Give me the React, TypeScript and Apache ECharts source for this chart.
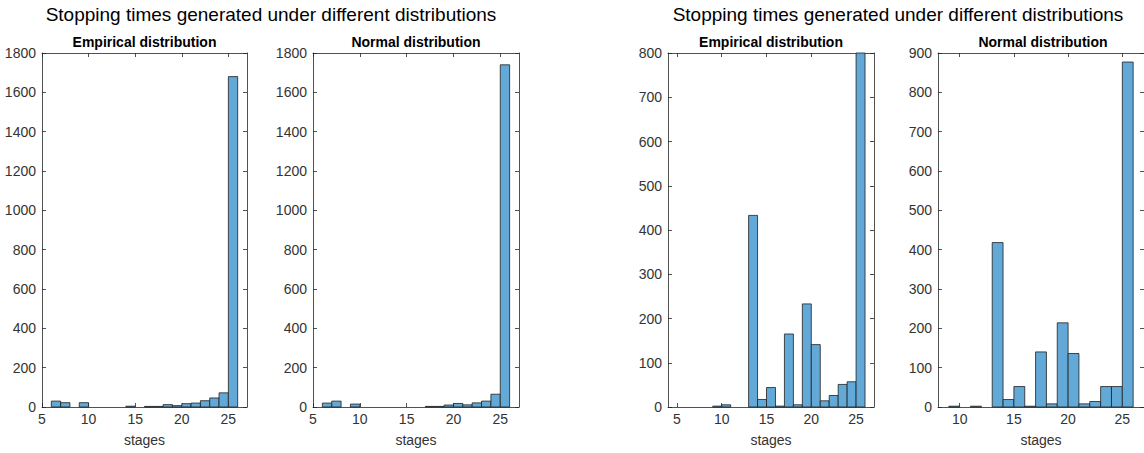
import React, { useEffect, useRef } from "react";
import * as echarts from "echarts";

// ---- data (bin start stage, count); bins are 1 stage wide ----
const empA_bins = [6, 7, 9, 14, 16, 17, 18, 19, 20, 21, 22, 23, 24, 25];
const empA_counts = [30, 22, 22, 4, 3, 3, 12, 7, 17, 20, 32, 46, 72, 1680];

const norA_bins = [6, 7, 9, 17, 18, 19, 20, 21, 22, 23, 24, 25];
const norA_counts = [20, 30, 15, 3, 3, 10, 18, 11, 21, 30, 65, 1740];

const empB_bins = [9, 10, 13, 14, 15, 16, 17, 18, 19, 20, 21, 22, 23, 24, 25];
const empB_counts = [2, 5, 433, 17, 44, 2, 165, 5, 233, 141, 14, 26, 51, 57, 870];

const norB_bins = [9, 11, 13, 14, 15, 16, 17, 18, 19, 20, 21, 22, 23, 24, 25];
const norB_counts = [2, 2, 418, 19, 52, 2, 140, 8, 214, 136, 8, 14, 52, 52, 877];

const suptitle = "Stopping times generated under different distributions";
const subtitles = ["Empirical distribution", "Normal distribution", "Empirical distribution", "Normal distribution"];
const xName = "stages";

const xTicksA = [5, 10, 15, 20, 25];
const xTicksB1 = [5, 10, 15, 20, 25];
const xTicksB2 = [10, 15, 20, 25];

const FONT = "'Liberation Sans', Arial, Helvetica, sans-serif";
const AX = "#262626";
const LABEL = "#333333";
const FILL = "#63a9d8";

type Panel = {
  bins: number[];
  counts: number[];
  xmin: number;
  xmax: number;
  xticks: number[];
  ymax: number;
  yint: number;
  left: number;
  width: number;
  title: string;
};

const panels: Panel[] = [
  { bins: empA_bins, counts: empA_counts, xmin: 5, xmax: 27, xticks: xTicksA, ymax: 1800, yint: 200, left: 42, width: 205, title: subtitles[0] },
  { bins: norA_bins, counts: norA_counts, xmin: 5, xmax: 27, xticks: xTicksA, ymax: 1800, yint: 200, left: 313, width: 206, title: subtitles[1] },
  { bins: empB_bins, counts: empB_counts, xmin: 4, xmax: 27, xticks: xTicksB1, ymax: 800, yint: 100, left: 668, width: 206, title: subtitles[2] },
  { bins: norB_bins, counts: norB_counts, xmin: 8, xmax: 27, xticks: xTicksB2, ymax: 900, yint: 100, left: 938, width: 210, title: subtitles[3] },
];

const TOP = 53;
const HEIGHT = 354;

export default function App() {
  const ref = useRef<HTMLDivElement>(null);
  useEffect(() => {
    if (!ref.current) return;
    const chart = echarts.init(ref.current, undefined, { renderer: "svg" });
    const grid: any[] = [];
    const xAxis: any[] = [];
    const yAxis: any[] = [];
    const series: any[] = [];
    const title: any[] = [
      { text: suptitle, left: 271, top: 5, textAlign: "center", padding: 0, textStyle: { fontFamily: FONT, fontSize: 19, fontWeight: "normal", color: "#000" } },
      { text: suptitle, left: 898, top: 5, textAlign: "center", padding: 0, textStyle: { fontFamily: FONT, fontSize: 19, fontWeight: "normal", color: "#000" } },
    ];
    panels.forEach((p, i) => {
      grid.push({ left: p.left, top: TOP, width: p.width, height: HEIGHT, containLabel: false });
      title.push({
        text: p.title,
        left: p.left + p.width / 2,
        top: 35,
        textAlign: "center",
        padding: 0,
        textStyle: { fontFamily: FONT, fontSize: 14, fontWeight: "bold", color: "#000" },
      });
      const lineStyle = { color: AX, width: 0.8 };
      xAxis.push({
        type: "value",
        gridIndex: i,
        position: "bottom",
        min: p.xmin,
        max: p.xmax,
        axisLine: { show: true, onZero: false, lineStyle },
        axisTick: { show: true, inside: true, length: 4, lineStyle, customValues: p.xticks },
        axisLabel: { show: true, customValues: p.xticks, color: LABEL, fontFamily: FONT, fontSize: 14, margin: 5, formatter: (v: number) => String(v) },
        splitLine: { show: false },
        name: xName,
        nameLocation: "middle",
        nameGap: 26,
        nameTextStyle: { color: LABEL, fontFamily: FONT, fontSize: 14 },
      });
      xAxis.push({
        type: "value",
        gridIndex: i,
        position: "top",
        min: p.xmin,
        max: p.xmax,
        axisLine: { show: true, onZero: false, lineStyle },
        axisTick: { show: true, inside: true, length: 4, lineStyle, customValues: p.xticks },
        axisLabel: { show: false },
        splitLine: { show: false },
      });
      yAxis.push({
        type: "value",
        gridIndex: i,
        position: "left",
        min: 0,
        max: p.ymax,
        interval: p.yint,
        axisLine: { show: true, onZero: false, lineStyle },
        axisTick: { show: true, inside: true, length: 4, lineStyle },
        axisLabel: { show: true, color: LABEL, fontFamily: FONT, fontSize: 14, margin: 6, formatter: (v: number) => String(v) },
        splitLine: { show: false },
      });
      yAxis.push({
        type: "value",
        gridIndex: i,
        position: "right",
        min: 0,
        max: p.ymax,
        interval: p.yint,
        axisLine: { show: true, onZero: false, lineStyle },
        axisTick: { show: true, inside: true, length: 4, lineStyle },
        axisLabel: { show: false },
        splitLine: { show: false },
      });
      const data = p.bins.map((b, k) => [b, b + 1, p.counts[k]]);
      series.push({
        type: "custom",
        xAxisIndex: 2 * i,
        yAxisIndex: 2 * i,
        encode: { x: [0, 1], y: 2 },
        data,
        renderItem: (params: any, api: any) => {
          const x0 = api.value(0);
          const x1 = api.value(1);
          const v = api.value(2);
          const p0 = api.coord([x0, 0]);
          const p1 = api.coord([x1, v]);
          const cs = params.coordSys;
          const rect = echarts.graphic.clipRectByRect(
            { x: p0[0], y: p1[1], width: p1[0] - p0[0], height: p0[1] - p1[1] },
            { x: cs.x, y: cs.y, width: cs.width, height: cs.height }
          );
          if (!rect) return null;
          return {
            type: "rect",
            shape: rect,
            style: { fill: FILL, stroke: "#1f1f1f", lineWidth: 0.8 },
          };
        },
      });
    });
    chart.setOption({
      animation: false,
      backgroundColor: "#ffffff",
      title,
      grid,
      xAxis,
      yAxis,
      series,
    });
    return () => chart.dispose();
  }, []);
  return (
    <div
      ref={ref}
      style={{ position: "absolute", left: 0, top: 0, width: 1144, height: 453 }}
    />
  );
}
